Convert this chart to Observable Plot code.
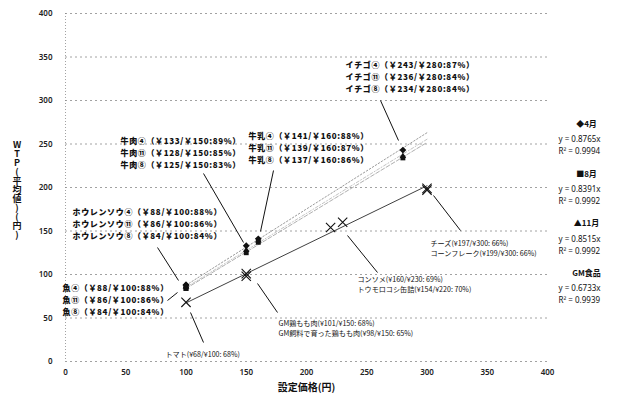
<!DOCTYPE html>
<html><head><meta charset="utf-8">
<script src="https://cdn.jsdelivr.net/npm/d3@7"></script>
<script src="https://cdn.jsdelivr.net/npm/@observablehq/plot@0.6"></script>
<style>
html,body{margin:0;padding:0;background:#fff;}
.mlab text{letter-spacing:0.65px;}
</style>
</head><body><div id="chart"></div>
<script>
// ---------- data ----------
const months = ["4月", "8月", "11月"];
const monthCircled = ["④", "⑧", "⑪"];
const items = ["ホウレンソウ", "魚", "牛肉", "牛乳", "イチゴ"];
const itemPrice = [100, 100, 150, 160, 280];
const wtpApr = [88, 88, 133, 141, 243];
const wtpAug = [84, 84, 125, 137, 234];
const wtpNov = [86, 86, 128, 139, 236];
const pctApr = [88, 88, 89, 88, 87];
const pctAug = [84, 84, 83, 86, 84];
const pctNov = [86, 86, 85, 87, 84];

const gmItems = ["トマト", "GM鶏もも肉", "GM飼料で育った鶏もも肉", "トウモロコシ缶詰", "コンソメ", "チーズ", "コーンフレーク"];
const gmPrice = [100, 150, 150, 220, 230, 300, 300];
const gmWtp = [68, 101, 98, 154, 160, 197, 199];
const gmPct = [68, 68, 65, 70, 69, 66, 66];

const seriesNames = ["4月", "8月", "11月", "GM食品"];
const seriesGlyph = ["◆", "■", "▲", ""];
const slopes = [0.8765, 0.8391, 0.8515, 0.6733];
const r2 = [0.9994, 0.9992, 0.9992, 0.9939];

const xTicks = [0, 50, 100, 150, 200, 250, 300, 350, 400];
const yTicks = [0, 50, 100, 150, 200, 250, 300, 350, 400];
const xTitle = "設定価格(円)";
const yTitle = "WTP(平均値)(円)";

// ---------- layout ----------
const W = 620, H = 401, ML = 65, MR = 73, MT = 13, MB = 40;
const xs = d3.scaleLinear([0, 400], [ML, W - MR]);
const ys = d3.scaleLinear([0, 400], [H - MB, MT]);
const px = v => xs.invert(v), py = v => ys.invert(v);
const JP = "'Noto Sans CJK JP', 'Noto Sans', sans-serif";

const wtps = [wtpApr, wtpAug, wtpNov];
const pcts = [pctApr, pctAug, pctNov];
const labelOrder = [0, 2, 1]; // ④, ⑪, ⑧

// month-label blocks (pixel layout: left x, first-line centre y)
const monthLayout = {
  "ホウレンソウ": {x: 72, y: 212, leader: [157, 247, 178, 280]},
  "魚": {x: 62, y: 288, leader: [167, 300, 177, 292]},
  "牛肉": {x: 120, y: 141, leader: [203, 173, 243, 242]},
  "牛乳": {x: 248, y: 136, leader: [273, 170, 260, 231]},
  "イチゴ": {x: 345, y: 65, leader: [380, 100, 398, 140]}
};
const MFS = 8, MLH = 11.8; // month label font size / line step (px)
const gmLayout = [
  {names: ["チーズ", "コーンフレーク"], x: 430, y: 242, leader: [433, 195, 460, 230]},
  {names: ["コンソメ", "トウモロコシ缶詰"], x: 357, y: 278, leader: [347, 235, 377, 272]},
  {names: ["GM鶏もも肉", "GM飼料で育った鶏もも肉"], x: 278, y: 322, leader: [257, 283, 277, 312]},
  {names: ["トマト"], x: 165, y: 353, leader: [190, 312, 203, 342]}
];
const GFS = 7.1, GLH = 10.6;

// ---------- derived tables ----------
const monthPts = months.map((m, mi) => items.map((it, i) => ({month: m, x: itemPrice[i], y: wtps[mi][i]})));
const gmPts = gmItems.map((n, i) => ({x: gmPrice[i], y: gmWtp[i]}));

const trendRanges = [[100, 300], [100, 300], [100, 300], [100, 300]];
const trends = slopes.map((s, k) => trendRanges[k].map(x => ({k, x, y: s * x})));

const monthLabels = [];
const leaders = [];
items.forEach((it, i) => {
  const L = monthLayout[it];
  const lines = labelOrder.map(mi =>
    `${it}${monthCircled[mi]}（￥${wtps[mi][i]}/￥${itemPrice[i]}:${pcts[mi][i]}%）`);
  monthLabels.push({x: px(L.x), y: py(L.y + 11 * (lines.length - 1) / 2), text: lines.join("\n")});
  leaders.push(L.leader);
});
const gmLabels = [];
gmLayout.forEach(L => {
  const lines = L.names.map(n => {
    const i = gmItems.indexOf(n);
    return `${n}(¥${gmWtp[i]}/¥${gmPrice[i]}: ${gmPct[i]}%)`;
  });
  gmLabels.push({x: px(L.x), y: py(L.y + GLH * (lines.length - 1) / 2), text: lines.join("\n")});
  leaders.push(L.leader);
});

const legendHead = [], legendEq = [];
seriesNames.forEach((n, k) => {
  const y0 = 124 + k * 49.7;
  legendHead.push({x: px(586), y: py(y0), text: `${seriesGlyph[k]}${n}`});
  legendEq.push({x: px(558), y: py(y0 + 20), text: `y = ${slopes[k].toFixed(4)}x\nR² = ${r2[k].toFixed(4)}`});
});

const trendStyles = [
  {stroke: "#9a9a9a", strokeDasharray: "1.5,2"},
  {stroke: "#b0b0b0", strokeDasharray: "4,2"},
  {stroke: "#c4c4c4", strokeDasharray: "3,2,1,2"},
  {stroke: "#2a2a2a", strokeDasharray: null}
];
const monthSymbols = ["diamond2", "square2", "triangle2"];

const plot = Plot.plot({
  width: W, height: H,
  marginLeft: ML, marginRight: MR, marginTop: MT, marginBottom: MB,
  style: {fontFamily: "'Noto Sans', sans-serif", background: "#fff", overflow: "visible"},
  x: {domain: [0, 400]},
  y: {domain: [0, 400]},
  marks: [
    Plot.ruleY(yTicks, {stroke: "#8a8a8a", strokeWidth: 0.8, strokeDasharray: "2,3"}),
    Plot.ruleX([0], {stroke: "#8a8a8a", strokeWidth: 0.8, strokeDasharray: "1,2"}),
    Plot.axisX({ticks: xTicks, tickSize: 0, tickPadding: 8, fontSize: 8, fontWeight: 600, fill: "#222", label: null}),
    Plot.axisY({ticks: yTicks, tickSize: 0, tickPadding: 13, fontSize: 8, fontWeight: 600, fill: "#222", label: null}),
    ...trends.map((t, k) => Plot.line(t, {x: "x", y: "y", strokeWidth: k === 3 ? 0.9 : 1, ...trendStyles[k]})),
    Plot.link(leaders, {x1: d => px(d[0]), y1: d => py(d[1]), x2: d => px(d[2]), y2: d => py(d[3]), stroke: "#111", strokeWidth: 1}),
    ...monthPts.map((pts, mi) => Plot.dot(pts, {x: "x", y: "y", symbol: monthSymbols[mi], r: 3.1, fill: "#111"})),
    Plot.dot(gmPts, {x: "x", y: "y", symbol: "times", r: 4.3, stroke: "#111", strokeWidth: 1.1}),
    Plot.text(monthLabels, {x: "x", y: "y", text: "text", className: "mlab", textAnchor: "start", lineAnchor: "middle", lineHeight: MLH / MFS, fontSize: MFS, fontWeight: 900, fontFamily: JP, fill: "#111"}),
    Plot.text(gmLabels, {x: "x", y: "y", text: "text", textAnchor: "start", lineAnchor: "middle", lineHeight: GLH / GFS, fontSize: GFS, fontFamily: JP, fill: "#111"}),
    Plot.text(legendHead, {x: "x", y: "y", text: "text", textAnchor: "middle", fontSize: 8, fontWeight: "bold", fontFamily: JP, fill: "#111"}),
    Plot.text(legendEq, {x: "x", y: "y", text: "text", textAnchor: "start", lineAnchor: "middle", lineHeight: 1.5, fontSize: 8, fontFamily: "'Noto Sans', sans-serif", fill: "#111"}),
    Plot.text([xTitle], {frameAnchor: "bottom", dy: 29, fontSize: 10, fontWeight: "bold", fontFamily: JP, fill: "#111"})
  ]
});

d3.select(plot).append("text")
  .attr("x", 17).attr("y", 190)
  .attr("text-anchor", "middle")
  .attr("font-size", 9).attr("font-weight", "bold")
  .attr("font-family", JP).attr("fill", "#111")
  .style("writing-mode", "vertical-rl").style("text-orientation", "upright")
  .text(yTitle);

document.getElementById("chart").append(plot);
</script>
</body></html>
